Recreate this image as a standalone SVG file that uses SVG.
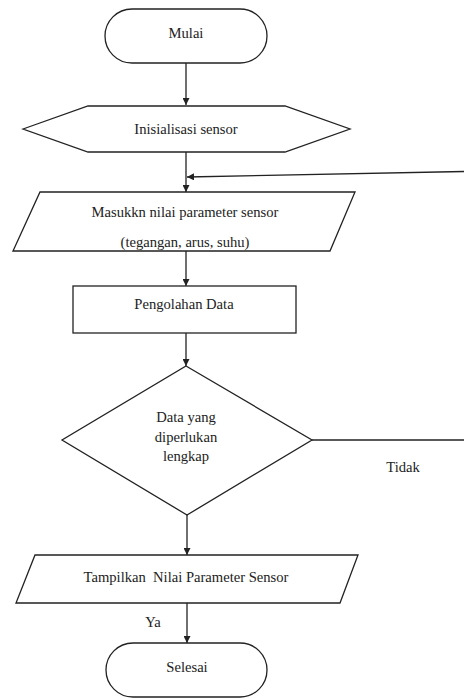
<svg xmlns="http://www.w3.org/2000/svg" width="464" height="698" viewBox="0 0 464 698">
<style>
.s{fill:#fff;stroke:#222;stroke-width:1.3}
.c{fill:none;stroke:#222;stroke-width:1.3}
</style>
<defs>
<marker id="a" viewBox="0 0 10 10" refX="10" refY="5" markerWidth="7" markerHeight="7" orient="auto" markerUnits="userSpaceOnUse">
<path d="M0,0L10,5L0,10z" fill="#222"/>
</marker>
</defs>
<g font-family="Liberation Serif, DejaVu Serif, serif" font-size="14.6" fill="#222" text-anchor="middle">
<g id="connectors">
<line class="c" x1="186" y1="63" x2="186" y2="105" marker-end="url(#a)"/>
<line class="c" x1="186" y1="152" x2="186" y2="192" marker-end="url(#a)"/>
<line class="c" x1="464" y1="171.5" x2="187" y2="177" marker-end="url(#a)"/>
<line class="c" x1="186" y1="251" x2="186" y2="286" marker-end="url(#a)"/>
<line class="c" x1="186" y1="333" x2="186" y2="366" marker-end="url(#a)"/>
<line class="c" x1="312" y1="440" x2="464" y2="440"/>
<line class="c" x1="187" y1="515" x2="187" y2="555" marker-end="url(#a)"/>
<line class="c" x1="187" y1="603" x2="187" y2="643" marker-end="url(#a)"/>
<text x="403" y="472">Tidak</text>
<text x="153" y="627">Ya</text>
</g>
<g id="mulai">
<rect class="s" x="105" y="9" width="162" height="54" rx="27" ry="27"/>
<text x="186" y="38">Mulai</text>
</g>
<g id="inisialisasi">
<polygon class="s" points="23,129 88,106 285,106 350,129 285,152 88,152"/>
<text x="186" y="134">Inisialisasi sensor</text>
</g>
<g id="masukkan">
<polygon class="s" points="40,192 355,192 330,251 13,251"/>
<text x="185" y="217">Masukkn nilai parameter sensor</text>
<text x="185" y="247">(tegangan, arus, suhu)</text>
</g>
<g id="pengolahan">
<rect class="s" x="73" y="286" width="223" height="47"/>
<text x="184" y="309">Pengolahan Data</text>
</g>
<g id="decision">
<polygon class="s" points="186,366 312,440 187,515 62,440"/>
<text x="186" y="422">Data yang</text>
<text x="186" y="442">diperlukan</text>
<text x="186" y="461">lengkap</text>
</g>
<g id="tampilkan">
<polygon class="s" points="35,555 358,555 340,603 16,603"/>
<text x="186" y="582" xml:space="preserve">Tampilkan  Nilai Parameter Sensor</text>
</g>
<g id="selesai">
<rect class="s" x="106" y="643" width="161" height="54" rx="27" ry="27"/>
<text x="187" y="672">Selesai</text>
</g>
</g>
</svg>
